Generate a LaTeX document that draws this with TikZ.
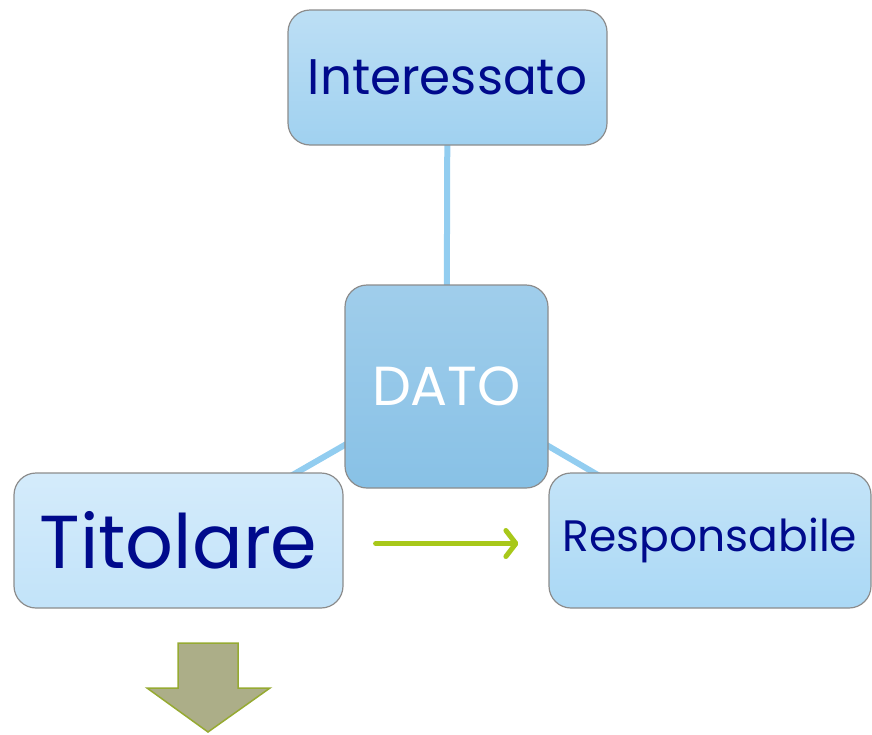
\documentclass[tikz,border=0pt]{standalone}
\usepackage{fontspec}
\setmainfont{Poppins}
\usetikzlibrary{arrows.meta,backgrounds}
\definecolor{navy}{RGB}{0,10,140}
\definecolor{linkblue}{RGB}{146,205,240}
\definecolor{boxA}{RGB}{160,209,240}
\definecolor{boxB}{RGB}{194,227,249}
\definecolor{boxC}{RGB}{170,216,245}
\definecolor{boxD}{RGB}{136,193,230}
\definecolor{limegreen}{RGB}{168,200,26}
\definecolor{olivefill}{RGB}{172,174,136}
\definecolor{olivedraw}{RGB}{150,170,50}
\begin{document}
\begin{tikzpicture}[x=1pt, y=-1pt,
  box/.style={rounded corners=22pt, draw=black!45, line width=1.2pt, text=navy, inner sep=0pt},
  link/.style={linkblue, line width=6pt},
  flow/.style={limegreen, line width=5pt, line cap=round, -{Straight Barb[length=10pt,width=26pt,round]}}]
\useasboundingbox (0,0) rectangle (872,734);

\node[box, top color=boxA!70!white, bottom color=boxA, minimum width=319pt, minimum height=135pt,
  font=\fontsize{50}{60}\selectfont] (interessato) at (447.5,77.5) {Interessato};
\node[box, top color=boxD!80!white, bottom color=boxD, minimum width=203pt, minimum height=203pt, text=white,
  font=\fontsize{55}{60}\selectfont] (dato) at (446.5,386.5) {DATO};
\node[box, top color=boxB!70!white, bottom color=boxB, minimum width=329pt, minimum height=135pt,
  font=\fontsize{75}{90}\selectfont] (titolare) at (178.5,540.5) {Titolare};
\node[box, top color=boxC!70!white, bottom color=boxC, minimum width=322pt, minimum height=135pt,
  font=\fontsize{44}{50}\selectfont] (responsabile) at (710,540.5) {Responsabile};

\begin{scope}[on background layer]
\draw[link] (interessato.center) -- (dato.center);
\draw[link] (dato.center) -- (titolare.center);
\draw[link] (dato.center) -- (responsabile.center);
\end{scope}

\draw[flow] ([xshift=32pt,yshift=-3pt]titolare.east) -- ([xshift=-30pt,yshift=-3pt]responsabile.west);

% freccia in basso
\filldraw[fill=olivefill, draw=olivedraw, line width=1.5pt]
  (178,643)--(238,643)--(238,688)--(270,688)--(208,732)--(147,688)--(178,688)--cycle;
\end{tikzpicture}
\end{document}
